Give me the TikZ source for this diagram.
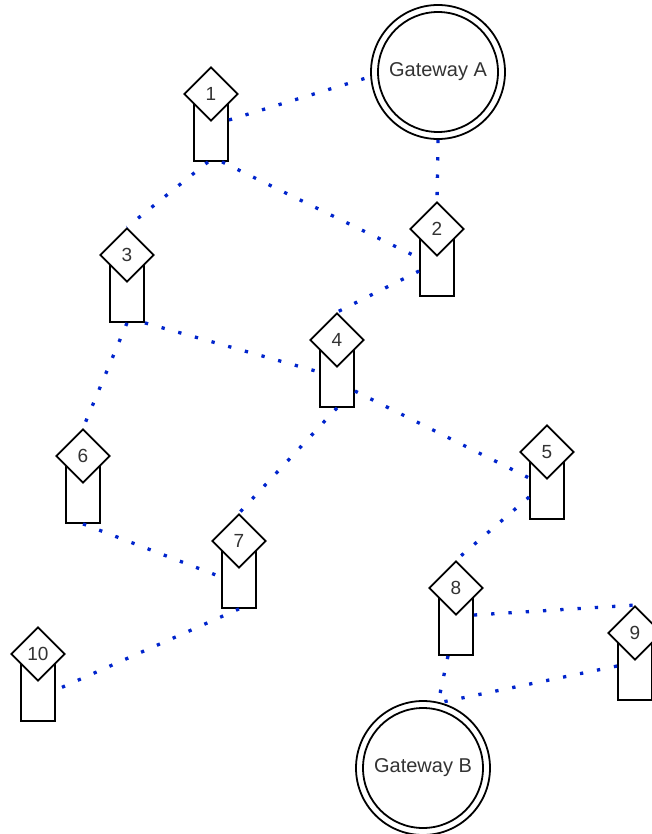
\documentclass[tikz,border=0pt]{standalone}
\usepackage{fontspec}
\setmainfont{Liberation Sans}
\usetikzlibrary{shapes.geometric}
\definecolor{linkblue}{RGB}{0,36,204}
\definecolor{labelgray}{RGB}{51,51,51}
\begin{document}
\begin{tikzpicture}[x=1pt,y=-1pt,
  postbody/.style={draw=black, line width=1.8pt, fill=white, minimum width=34pt, minimum height=62pt, inner sep=0pt},
  tagbox/.style={diamond, draw=black, line width=1.8pt, fill=white, minimum width=54pt, minimum height=54pt, inner sep=0pt, font=\fontsize{19}{19}\selectfont, text=labelgray},
  gateway/.style={circle, draw=black, line width=1.8pt, fill=white, minimum size=134pt, inner sep=0pt},
  gwlabel/.style={font=\fontsize{20}{20}\selectfont, text=labelgray},
  ring/.style={draw=black, line width=1.8pt},
  link/.style={draw=linkblue, line width=3.3pt, dash pattern=on 3.3pt off 14pt}
]
\useasboundingbox (0,0) rectangle (652,834);

% gateways (outer circle as node, inner ring drawn on top)
\node[gateway] (gA) at (438,72) {};
\draw[ring] (gA.center) circle[radius=60pt];
\node[gwlabel] (lA) at (gA.center) {Gateway A};
\node[gateway] (gB) at (423,768) {};
\draw[ring] (gB.center) circle[radius=60pt];
\node[gwlabel] (lB) at (gB.center) {Gateway B};

% sensor posts: body rectangle with a numbered diamond tag on top
\foreach \n/\x/\y in {1/211/94, 2/437/229, 3/127/255, 4/337/340, 5/547/452,
                      6/83/456, 7/239/541, 8/456/588, 9/635/633, 10/38/654}{
  \node[postbody] (b\n) at (\x,\y+36) {};
  \node[tagbox] (t\n) at (\x,\y) {\n};
}

% radio links
\path[link] ([yshift=10pt]b1.east) -- (gA.184);
\path[link] (gA.south) -- (t2.north);
\path[link] ([xshift=11pt]b1.south) -- ([yshift=7pt]b2.west);
\path[link] ([xshift=-3pt]b1.south) -- (t3.north);
\path[link] ([yshift=-6pt]b2.west) -- (t4.north);
\path[link] (b3.south east) -- ([yshift=4pt]b4.west);
\path[link] (b3.south) -- (t6.north);
\path[link] (b4.south) -- (t7.north);
\path[link] ([yshift=-15pt]b4.east) -- ([yshift=10pt]b5.west);
\path[link] ([yshift=-9pt]b5.west) -- (t8.north);
\path[link] (b6.south) -- (b7.west);
\path[link] (b7.south) -- (b10.east);
\path[link] ([yshift=9pt]b8.east) -- (t9.north);
\path[link] ([xshift=-8pt]b8.south) -- (gB.77);
\path[link] ([yshift=3pt]b9.west) -- (gB.75);
\end{tikzpicture}
\end{document}
